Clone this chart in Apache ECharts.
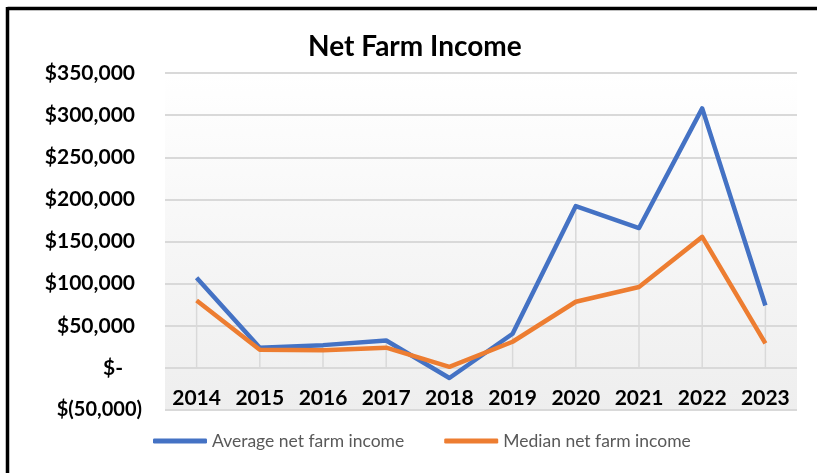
<!DOCTYPE html>
<html>
<head>
<meta charset="utf-8">
<script src="https://cdn.jsdelivr.net/npm/echarts@6/dist/echarts.min.js"></script>
<style>
    html, body { margin: 0; padding: 0; background: #fff; }
    #chart { width: 817px; height: 473px; }
</style>
</head>
<body>
<div id="chart"></div>
<script>
// data
var years = ['2014', '2015', '2016', '2017', '2018', '2019', '2020', '2021', '2022', '2023'];
var averageIncome = [107000, 24000, 27000, 32500, -12000, 40500, 192000, 166000, 308000, 74000];
var medianIncome = [80000, 21500, 20800, 24000, 1200, 31000, 78500, 96000, 155500, 29000];
var seriesNames = ['Average net farm income', 'Median net farm income'];

// drop lines go from the higher of the two points down to the axis
var dropTop = years.map(function (y, i) {
    return Math.max(averageIncome[i], medianIncome[i], 0);
});

var fontName = 'Lato, "Open Sans", sans-serif';

//y-axis label in accounting style
var moneyLabel = function (v) {
    if (v === 0) return '{z|$-}';
    if (v < 0) return '{n|$(' + Math.abs(v).toLocaleString('en-US') + ')}';
    return '{p|$' + v.toLocaleString('en-US') + '}';
};

var myChart = echarts.init(document.getElementById('chart'));
myChart.setOption({
    backgroundColor: '#ffffff',
    animation: false,
    title: {
        text: 'Net Farm Income',
        left: 308,
        top: 33,
        padding: 0,
        textStyle: {fontFamily: fontName, fontSize: 28, fontWeight: 'bold', color: '#000'}
    },
    legend: {
        data: seriesNames,
        left: 153,
        top: 432,
        padding: 0,
        icon: 'roundRect',
        itemWidth: 54,
        itemHeight: 5,
        itemGap: 40,
        textStyle: {fontFamily: fontName, fontSize: 17.5, color: '#595959'}
    },
    graphic: [
        {type: 'line', shape: {x1: 7.5, y1: 8.5, x2: 817, y2: 8.5}, style: {stroke: '#000', lineWidth: 3.5}},
        {type: 'line', shape: {x1: 7.5, y1: 7, x2: 7.5, y2: 473}, style: {stroke: '#000', lineWidth: 3.5}}
    ],
    grid: {
        left: 165,
        right: 20,
        top: 73,
        bottom: 63,
        show: true,
        borderWidth: 0,
        backgroundColor: {
            type: 'linear', x: 0, y: 0, x2: 0, y2: 1,
            colorStops: [{offset: 0, color: '#ffffff'}, {offset: 1, color: '#eeeeee'}]
        }
    },
    xAxis: {
        type: 'category',
        data: years,
        position: 'bottom',
        axisLine: {show: false, onZero: false},
        axisTick: {show: false},
        splitLine: {show: false},
        axisLabel: {
            interval: 0,
            margin: -22,
            fontFamily: fontName,
            fontSize: 21,
            fontWeight: 'bold',
            color: '#000'
        }
    },
    yAxis: {
        type: 'value',
        min: -50000,
        max: 350000,
        interval: 50000,
        axisLine: {show: false},
        axisTick: {show: false},
        splitLine: {lineStyle: {color: '#d9d9d9', width: 2}},
        axisLabel: {
            margin: 23,
            formatter: moneyLabel,
            rich: {
                p: {fontFamily: fontName, fontSize: 21, fontWeight: 'bold', color: '#000', padding: [0, 7, 0, 0]},
                n: {fontFamily: fontName, fontSize: 20, fontWeight: 'bold', color: '#000'},
                z: {fontFamily: fontName, fontSize: 21, fontWeight: 'bold', color: '#000', padding: [0, 19, 0, 0]}
            }
        }
    },
    series: [
        {
            name: 'drop lines',
            type: 'custom',
            silent: true,
            z: 1,
            data: dropTop.map(function (v, i) { return [i, v]; }),
            renderItem: function (params, api) {
                var top = api.coord([api.value(0), api.value(1)]);
                var bottom = api.coord([api.value(0), 0]);
                return {
                    type: 'line',
                    shape: {x1: top[0], y1: top[1], x2: bottom[0], y2: bottom[1]},
                    style: {stroke: '#d9d9d9', lineWidth: 1.5}
                };
            }
        },
        {
            name: seriesNames[0],
            type: 'line',
            data: averageIncome,
            showSymbol: false,
            z: 3,
            lineStyle: {color: '#4472C4', width: 4.5, join: 'round'},
            itemStyle: {color: '#4472C4'}
        },
        {
            name: seriesNames[1],
            type: 'line',
            data: medianIncome,
            showSymbol: false,
            z: 4,
            lineStyle: {color: '#ED7D31', width: 4.5, join: 'round'},
            itemStyle: {color: '#ED7D31'}
        }
    ]
});
</script>
</body>
</html>
